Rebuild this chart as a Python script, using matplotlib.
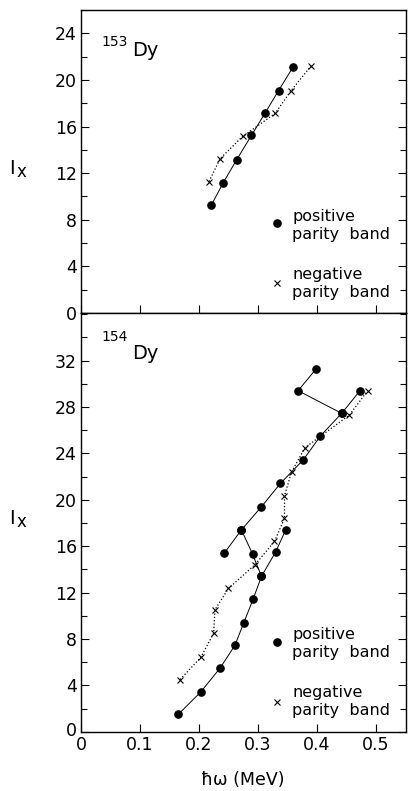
import matplotlib
matplotlib.use("Agg")
import matplotlib.pyplot as plt
from matplotlib.ticker import MultipleLocator

plt.rcParams['font.family'] = ['DejaVu Sans']

# ---- 153Dy ----
dy153_pos_w = [0.221, 0.241, 0.264, 0.289, 0.312, 0.335, 0.360]
dy153_pos_I = [9.26, 11.17, 13.16, 15.24, 17.15, 19.09, 21.14]
dy153_neg_w = [0.217, 0.236, 0.274, 0.329, 0.356, 0.390]
dy153_neg_I = [11.28, 13.25, 15.15, 17.12, 19.06, 21.2]

# ---- 154Dy positive parity (several branches) ----
dy154_posA_w = [0.165, 0.203, 0.236, 0.261, 0.276, 0.292, 0.306, 0.330, 0.347]
dy154_posA_I = [1.5, 3.42, 5.5, 7.45, 9.4, 11.45, 13.4, 15.5, 17.4]
dy154_posB_w = [0.306, 0.291, 0.272]
dy154_posB_I = [13.4, 15.3, 17.4]
dy154_posC_w = [0.243, 0.272, 0.306, 0.338, 0.377, 0.406, 0.442, 0.473]
dy154_posC_I = [15.4, 17.4, 19.4, 21.4, 23.45, 25.5, 27.45, 29.4]
dy154_posD_w = [0.442, 0.368, 0.399]
dy154_posD_I = [27.45, 29.4, 31.3]

# ---- 154Dy negative parity ----
dy154_neg_w = [0.168, 0.203, 0.225, 0.227, 0.250, 0.295, 0.328, 0.345, 0.345,
               0.357, 0.380, 0.455, 0.486]
dy154_neg_I = [4.5, 6.4, 8.5, 10.5, 12.35, 14.4, 16.4, 18.4, 20.35,
               22.4, 24.5, 27.3, 29.4]

xticks = [0, 0.1, 0.2, 0.3, 0.4, 0.5]
xticklabels = ['0', '0.1', '0.2', '0.3', '0.4', '0.5']

W, H = 408, 791
fig = plt.figure(figsize=(W / 100, H / 100), dpi=100)

def fx(px):
    return px / W

def fy(py):
    return 1 - py / H

left, right = fx(81), fx(406)
ax1 = fig.add_axes([left, fy(313), right - left, fy(10) - fy(313)])
ax2 = fig.add_axes([left, fy(731.7), right - left, fy(313) - fy(731.7)])

FS = 12.5
dot_kw = dict(marker='o', markersize=5.2, color='black', linestyle='none')
x_kw = dict(marker='x', markersize=4, markeredgewidth=0.8, color='black', linestyle='none')

def style(ax, ymax, ylabels_max):
    ax.set_xlim(0, 0.551)
    ax.set_ylim(0, ymax)
    ax.yaxis.set_major_locator(MultipleLocator(4))
    ax.yaxis.set_minor_locator(MultipleLocator(2))
    ax.set_xticks(xticks)
    ax.tick_params(axis='both', which='both', direction='in', left=True, right=True,
                   top=False, bottom=True, labelsize=FS, pad=3)
    ax.tick_params(axis='both', which='major', length=6, width=0.8)
    ax.tick_params(axis='both', which='minor', length=4, width=0.8)
    yt = list(range(0, ylabels_max + 1, 4))
    ax.set_yticks(yt)
    ax.set_yticklabels([str(v) for v in yt])
    for s in ax.spines.values():
        s.set_linewidth(1.0)

# top panel
style(ax1, 26, 24)
ax1.set_xticklabels([])
ax1.plot(dy153_pos_w, dy153_pos_I, '-', color='black', lw=0.7)
ax1.plot(dy153_neg_w, dy153_neg_I, ':', color='black', lw=0.9)
ax1.plot(dy153_pos_w, dy153_pos_I, **dot_kw)
ax1.plot(dy153_neg_w, dy153_neg_I, **x_kw)

# bottom panel
style(ax2, 36.1, 32)
ax2.set_xticklabels(xticklabels)
ax2.set_yticklabels([''] + [str(v) for v in range(4, 33, 4)])
for w, I in [(dy154_posA_w, dy154_posA_I), (dy154_posB_w, dy154_posB_I),
             (dy154_posC_w, dy154_posC_I), (dy154_posD_w, dy154_posD_I)]:
    ax2.plot(w, I, '-', color='black', lw=0.7)
ax2.plot(dy154_neg_w, dy154_neg_I, ':', color='black', lw=0.9)
for w, I in [(dy154_posA_w, dy154_posA_I), (dy154_posB_w, dy154_posB_I),
             (dy154_posC_w, dy154_posC_I), (dy154_posD_w, dy154_posD_I)]:
    ax2.plot(w, I, **dot_kw)
ax2.plot(dy154_neg_w, dy154_neg_I, **x_kw)

# y "0" label for bottom panel (at the corner, next to the x "0")
fig.text(fx(71), fy(731), '0', fontsize=FS, ha='center', va='center')

# isotope labels
for ytop, ybase, num in [(41.7, 50, '153'), (336.7, 353, '154')]:
    fig.text(fx(101), fy(ytop), num, fontsize=10, ha='left', va='center')
    fig.text(fx(132), fy(ybase), 'Dy', fontsize=14, ha='left', va='center')

# I_x labels
for yc in [168, 518]:
    fig.text(fx(9), fy(yc), 'I', fontsize=14, ha='left', va='center')
    fig.text(fx(17), fy(yc + 4), 'x', fontsize=12, ha='left', va='center')

# legends
for ydot, ypos1, ypos2, ycross, yneg1, yneg2 in [
        (223.3, 216, 235, 283.3, 274.3, 292.7),
        (642.3, 635, 652.7, 701.7, 693, 710)]:
    fig.lines.append(plt.Line2D([fx(276.7)], [fy(ydot)], transform=fig.transFigure,
                                **dot_kw))
    fig.lines.append(plt.Line2D([fx(276.7)], [fy(ycross)], transform=fig.transFigure,
                                **x_kw))
    fig.text(fx(292), fy(ypos1), 'positive', fontsize=11.5, ha='left', va='center')
    fig.text(fx(292), fy(ypos2), 'parity  band', fontsize=11.5, ha='left', va='center')
    fig.text(fx(292), fy(yneg1), 'negative', fontsize=11.5, ha='left', va='center')
    fig.text(fx(292), fy(yneg2), 'parity  band', fontsize=11.5, ha='left', va='center')

fig.text(fx(243), fy(780), 'ħω (MeV)', fontsize=12.5, ha='center', va='center')

fig.savefig('out.png', dpi=100)
